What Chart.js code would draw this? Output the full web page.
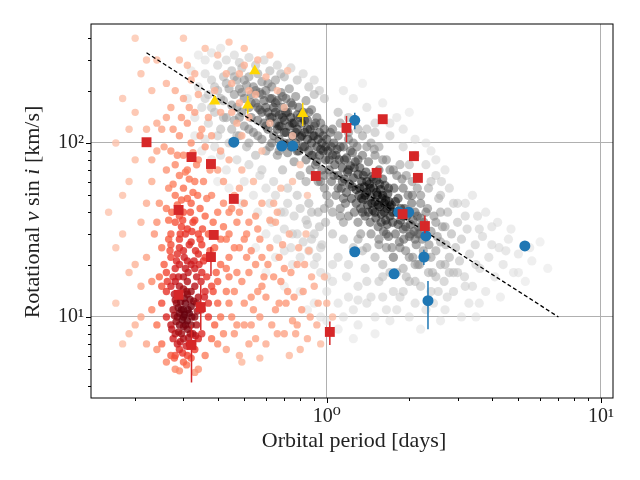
<!DOCTYPE html>
<html>
<head>
<meta charset="utf-8">
<script src="https://cdn.jsdelivr.net/npm/chart.js@4.4.0/dist/chart.umd.min.js"></script>
<style>
html, body { margin: 0; padding: 0; background: #fff; }
#wrap { width: 640px; height: 480px; }
</style>
</head>
<body>
<div id="wrap"><canvas id="chart" width="640" height="480"></canvas></div>
<script>
// grey cloud: synthetic population [period, vsini]
const greyPoints = [
  [0.34,210],[0.35,160],[0.36,250],[0.37,190],[0.37,130],[0.38,230],[0.39,150],[0.40,280],[0.40,200],[0.41,120],
  [0.42,175],[0.42,240],[0.43,140],[0.44,205],[0.44,100],[0.45,165],[0.45,260],[0.36,105],[0.39,95],[0.43,300],
  [0.46,190],[0.46,135],[0.47,230],[0.47,160],[0.48,110],[0.48,205],[0.49,150],[0.49,270],[0.50,180],[0.50,125],
  [0.51,215],[0.51,95],[0.52,160],[0.52,240],[0.53,140],[0.53,190],[0.54,115],[0.54,210],[0.55,170],[0.55,85],
  [0.56,250],[0.56,135],[0.57,195],[0.57,155],[0.58,105],[0.58,225],[0.59,175],[0.59,130],[0.60,200],[0.60,90],
  [0.47,80],[0.52,75],[0.58,70],
  [0.61,150],[0.61,120],[0.62,180],[0.62,95],[0.63,210],[0.63,140],[0.64,160],[0.64,110],[0.65,130],[0.65,230],
  [0.66,175],[0.66,85],[0.67,145],[0.67,105],[0.68,195],[0.68,125],[0.69,160],[0.69,70],[0.70,135],[0.70,100],
  [0.71,180],[0.71,115],[0.72,150],[0.72,88],[0.73,125],[0.73,205],[0.74,140],[0.74,95],[0.75,110],[0.75,165],
  [0.76,78],[0.76,130],[0.77,185],[0.77,100],[0.78,120],[0.78,145],[0.79,90],[0.79,160],[0.80,108],[0.80,65],
  [0.64,60],[0.72,55],[0.78,50],[0.68,250],
  [0.81,130],[0.82,95],[0.82,150],[0.83,115],[0.84,80],[0.84,175],[0.85,105],[0.85,135],[0.86,90],[0.87,120],
  [0.87,70],[0.88,155],[0.88,100],[0.89,85],[0.90,125],[0.90,110],[0.91,75],[0.92,140],[0.92,95],[0.93,60],
  [0.94,115],[0.94,85],[0.95,130],[0.96,100],[0.96,70],[0.97,90],[0.98,120],[0.98,55],[0.99,80],[1.00,105],
  [0.86,45],[0.93,40],[0.99,35],[0.90,190],[0.84,60],
  [1.01,90],[1.02,70],[1.03,115],[1.04,60],[1.05,85],[1.06,100],[1.07,75],[1.08,50],[1.09,92],[1.10,65],
  [1.11,80],[1.12,130],[1.13,55],[1.14,72],[1.15,95],[1.16,62],[1.17,45],[1.18,82],[1.19,68],[1.20,105],
  [1.21,58],[1.22,74],[1.23,48],[1.24,88],[1.25,63],[1.26,40],[1.27,78],[1.28,54],[1.29,95],[1.30,66],
  [1.05,30],[1.15,28],[1.25,25],[1.10,150],[1.20,140],[1.02,45],[1.12,38],
  [1.31,50],[1.32,72],[1.33,42],[1.34,60],[1.35,85],[1.36,47],[1.37,56],[1.38,38],[1.39,68],[1.40,52],
  [1.41,44],[1.42,78],[1.43,58],[1.44,35],[1.45,49],[1.46,64],[1.47,41],[1.48,55],[1.49,92],[1.50,46],
  [1.51,37],[1.52,61],[1.53,50],[1.54,33],[1.55,70],[1.56,43],[1.57,54],[1.58,39],[1.59,48],[1.60,62],
  [1.61,31],[1.62,45],[1.63,57],[1.64,36],[1.65,80],[1.66,42],[1.67,51],[1.68,29],[1.69,46],[1.70,38],
  [1.35,110],[1.45,100],[1.55,95],[1.40,25],[1.50,22],[1.60,20],[1.33,30],[1.65,25],
  [1.72,44],[1.74,35],[1.76,55],[1.78,30],[1.80,40],[1.82,48],[1.84,27],[1.86,36],[1.88,62],[1.90,32],
  [1.92,42],[1.94,24],[1.96,38],[1.98,50],[2.00,29],[2.02,34],[2.04,45],[2.06,22],[2.08,31],[2.10,40],
  [2.12,26],[2.14,55],[2.16,33],[2.18,20],[2.20,37],[1.75,70],[1.85,75],[1.95,65],[2.05,60],[1.80,18],
  [1.95,17],[2.10,16],[1.73,25],[1.91,28],[2.15,30],
  [2.23,28],[2.26,35],[2.30,22],[2.33,42],[2.36,26],[2.40,31],[2.43,18],[2.46,38],[2.50,24],[2.53,29],
  [2.56,48],[2.60,20],[2.64,33],[2.68,16],[2.72,26],[2.76,40],[2.80,22],[2.85,30],[2.90,18],[2.95,25],
  [3.00,35],[2.35,55],[2.55,14],[2.75,13],[2.45,12],[2.62,60],
  [3.05,21],[3.10,28],[3.18,17],[3.25,32],[3.32,23],[3.40,15],[3.48,26],[3.55,38],[3.62,19],[3.70,29],
  [3.80,14],[3.90,22],[4.00,33],[4.10,17],[4.25,25],[4.40,20],[3.20,45],[3.60,12],[4.30,13],
  [4.6,28],[4.8,18],[5.0,23],[5.3,16],[5.6,21],[6.0,27],[6.4,19],
  [0.75,30],[0.80,22],[0.88,28],[0.95,18],[1.00,14],[1.05,20],[1.10,12],[1.18,17],[1.25,11],[1.30,15],
  [1.38,19],[1.45,13],[1.55,16],[1.65,11],[1.75,14],[0.70,40],[0.85,34],
  [1.5,130],[1.7,110],[1.9,95],[2.1,85],[2.3,75],[2.5,65],[1.8,140],[2.6,50],[2.9,45],
  // outer envelope, upper left
  [0.31,180],[0.32,260],[0.33,140],[0.34,320],[0.35,90],[0.36,300],[0.38,330],[0.38,80],[0.41,350],[0.41,85],
  [0.43,70],[0.46,320],[0.48,290],[0.50,60],[0.52,310],[0.55,280],[0.57,65],[0.59,300],[0.44,55],[0.49,45],
  [0.54,50],[0.56,40],[0.60,55],[0.33,110],[0.40,60],
  [0.62,45],[0.63,35],[0.65,50],[0.66,28],[0.68,40],[0.70,32],[0.72,45],[0.74,25],[0.76,38],[0.78,30],
  [0.80,42],[0.82,27],[0.84,36],[0.86,24],[0.88,40],[0.90,30],[0.92,22],[0.94,33],[0.96,26],[0.98,42],
  [0.62,260],[0.66,280],[0.70,240],[0.74,270],[0.78,230],[0.82,250],[0.86,210],[0.90,230],[0.94,200],[0.98,180],
  // band fill
  [0.56,110],[0.58,150],[0.60,125],[0.62,140],[0.63,100],[0.65,170],[0.66,120],[0.67,90],[0.69,140],[0.70,115],
  [0.71,150],[0.73,100],[0.74,170],[0.75,130],[0.77,115],[0.78,90],[0.80,140],[0.81,110],[0.83,95],[0.83,135],
  [0.85,120],[0.86,150],[0.88,85],[0.89,110],[0.91,130],[0.92,78],[0.93,105],[0.95,92],[0.97,110],[0.99,95],
  [0.36,180],[0.38,160],[0.39,210],[0.41,180],[0.42,140],[0.43,220],[0.45,120],[0.46,240],[0.48,140],[0.49,195],
  [0.50,230],[0.52,120],[0.53,170],[0.55,200],[0.56,160],[0.58,190],[0.60,160],[0.61,220],[0.63,180],[0.65,150],
  [0.67,125],[0.69,185],[0.52,100],[0.47,110],[0.40,110],
  // core fill
  [1.02,80],[1.04,95],[1.06,65],[1.08,85],[1.10,55],[1.12,95],[1.14,60],[1.16,80],[1.18,52],[1.20,70],
  [1.22,90],[1.24,56],[1.26,72],[1.28,45],[1.30,80],[1.32,55],[1.34,48],[1.36,65],[1.38,50],[1.40,60],
  [1.42,40],[1.44,55],[1.46,45],[1.48,62],[1.50,40],[1.52,52],[1.54,44],[1.56,58],[1.58,35],[1.60,50],
  [1.62,40],[1.64,47],[1.66,34],[1.68,55],[1.70,43],[1.74,40],[1.78,46],[1.82,34],[1.86,42],[1.90,38],
  [1.94,33],[1.98,40],[2.02,30],[2.06,36],[2.10,28],[2.14,38],[2.18,30],[2.22,33],
  [0.95,60],[1.00,50],[1.05,40],[1.10,110],[1.15,48],[1.20,38],[1.25,100],[1.30,35],[1.35,40],[1.40,95],
  [1.45,30],[1.50,85],[1.55,28],[1.60,80],[1.65,30],[1.70,70],[1.75,22],[1.80,65],[1.85,25],[1.90,55],
  [2.00,22],[2.05,50],[2.10,20],[2.20,45],[2.25,24],[2.30,40],[2.40,22],[2.50,35],[2.60,27],[2.70,33],
  [1.15,35],[1.30,28],[1.55,26],[1.90,19],[2.35,18],[1.05,120],[1.20,115],[1.40,120],[0.98,65],[1.12,42],
  // lower and right envelope
  [0.90,12],[0.95,25],[1.00,9.5],[1.05,16],[1.10,22],[1.15,10],[1.20,13],[1.30,9],[1.35,24],[1.40,12],
  [1.50,10],[1.60,13],[1.70,18],[1.80,11],[1.90,14],[2.00,10],[2.10,12],[2.20,15],[2.30,11],[2.50,17],
  [2.70,11],[2.90,14],[3.10,10],[3.30,12],
  [0.55,25],[0.60,18],[0.65,22],[0.70,15],[0.75,20],[0.80,14],[0.85,11],[0.90,20],[1.00,17],[1.10,8.5],
  [1.20,20],[1.30,12.5],[1.40,16],[1.50,8],[1.60,17],[1.70,9.5],[1.85,13],[2.00,16],[2.20,8.5],[2.40,14],
  [2.60,9.5],[2.80,18],[3.20,15],[3.50,10],[0.95,10],[1.25,7.5],[1.75,22],[2.15,20],[0.60,30],[0.70,24],
  [2.4,60],[2.6,40],[2.8,55],[3.0,45],[3.2,38],[3.4,50],[3.6,32],[3.8,40],[4.0,26],[4.2,35],
  [4.5,24],[4.7,32],[5.0,18],[5.5,25],[3.0,18],[3.5,20],[2.7,20],[2.2,50],[2.0,75],[2.4,90],
  [1.25,180],[1.4,160],[1.6,170],[1.3,120],[1.5,115],[1.7,130],[1.9,120],[2.1,105],[2.3,100],[1.15,200],
  [1.35,220],[2.0,150],[2.5,80],[2.7,70]
];

// red cloud: contact-binary population [period, vsini]
const redPoints = [
  [0.27,9],[0.275,11],[0.28,8],[0.28,12.5],[0.285,7],[0.285,10],[0.29,9],[0.29,6.5],[0.295,11],[0.295,8],
  [0.30,10],[0.30,7.5],[0.305,12],[0.305,9],[0.31,8.5],[0.31,6],[0.315,10.5],[0.315,7],[0.32,9],[0.32,11.5],
  [0.325,8],[0.33,10],[0.33,6.5],[0.335,9],[0.34,7.5],[0.29,13],[0.30,5.5],[0.31,13.5],[0.28,6],[0.32,5.8],
  [0.275,7.5],[0.335,12],[0.30,8.8],[0.29,10.5],[0.31,9.5],[0.30,11],
  [0.272,8.5],[0.278,10.2],[0.283,12],[0.288,8.2],[0.292,7.2],[0.297,9.6],[0.302,12.8],[0.307,6.8],[0.312,11],[0.318,8],
  [0.322,10],[0.327,12.3],[0.332,7.8],[0.337,10.8],[0.282,9.4],[0.298,6.2],[0.303,10.3],[0.313,7.6],[0.323,6.9],[0.293,12.2],
  [0.287,11.3],[0.317,12.6],[0.308,5.3],[0.278,5.8],
  [0.24,9],[0.25,12],[0.25,7],[0.26,14],[0.26,5.5],[0.26,10],[0.27,15],[0.27,6],[0.28,16],[0.28,5],
  [0.29,15],[0.30,14.5],[0.31,16],[0.32,14],[0.33,15],[0.34,13],[0.35,11],[0.35,8],[0.36,14],[0.36,6],
  [0.37,10],[0.37,12],[0.38,7.5],[0.38,15],[0.34,5],[0.33,4.8],[0.29,4.9],[0.25,15],[0.23,11],[0.24,6.5],
  [0.39,9],[0.40,12],
  [0.26,18],[0.27,22],[0.28,19],[0.29,25],[0.30,17],[0.31,21],[0.32,27],[0.33,19],[0.34,23],[0.35,18],
  [0.27,30],[0.28,35],[0.29,28],[0.30,40],[0.31,32],[0.32,45],[0.33,36],[0.34,30],[0.35,26],[0.36,22],
  [0.26,42],[0.28,50],[0.30,55],[0.31,48],[0.33,60],[0.29,38],[0.27,26],[0.32,20],[0.36,38],[0.25,25],
  [0.37,30],[0.30,24],[0.29,20],
  [0.262,16],[0.268,24],[0.283,21],[0.292,30],[0.302,22],[0.312,18],[0.322,31],[0.332,24],[0.342,20],[0.352,32],
  [0.272,40],[0.298,36],[0.318,40],[0.338,50],[0.288,17],[0.308,14],[0.328,21],[0.348,16],[0.278,13.5],[0.358,13],
  [0.255,20],[0.265,28],[0.275,17],[0.285,23],[0.295,33],[0.305,19],[0.315,26],[0.325,35],[0.335,17],[0.345,28],
  [0.355,21],[0.365,17],[0.375,24],[0.265,36],[0.285,44],[0.305,30],[0.325,52],[0.345,42],[0.275,58],[0.295,47],
  [0.315,62],[0.335,75],[0.285,85],[0.305,68],[0.325,88],[0.265,55],[0.355,60],[0.345,110],[0.275,120],[0.315,160],
  [0.295,140],[0.255,95],[0.375,70],[0.365,48],[0.385,35],[0.395,18],[0.385,14],[0.245,17],[0.235,30],[0.245,45],
  [0.26,70],[0.27,90],[0.28,75],[0.29,110],[0.30,85],[0.31,130],[0.32,100],[0.33,150],[0.34,80],[0.35,120],
  [0.27,160],[0.28,200],[0.30,180],[0.32,230],[0.25,120],[0.36,95],[0.29,65],[0.31,70],[0.33,250],[0.26,140],
  [0.34,190],[0.37,140],[0.24,90],[0.29,300],[0.31,280],
  [0.17,12],[0.18,30],[0.19,8],[0.19,60],[0.20,150],[0.20,20],[0.21,10],[0.21,250],[0.22,45],[0.22,7],
  [0.23,80],[0.23,200],[0.24,35],[0.24,300],[0.18,180],[0.17,100],[0.22,120],[0.21,15],[0.40,40],[0.41,20],
  [0.42,8],[0.42,60],[0.43,14],[0.44,30],[0.45,100],[0.45,10],[0.46,50],[0.47,18],[0.48,6],[0.48,25],
  [0.49,70],[0.50,12],[0.52,35],[0.53,9],[0.55,20],[0.56,14],[0.58,45],[0.60,7],[0.39,25],[0.40,70],
  [0.38,50],[0.39,200],[0.40,320],[0.43,250],[0.36,350],[0.30,400],[0.26,220],[0.38,110],[0.41,150],[0.44,40],
  [0.47,130],
  [0.41,10],[0.43,6.5],[0.44,12],[0.46,8],[0.47,35],[0.49,16],[0.50,45],[0.51,22],[0.53,13],[0.54,60],
  [0.57,28],[0.59,17],[0.42,45],[0.44,80],[0.46,25],[0.48,55],[0.50,9],[0.52,7],[0.55,38],[0.57,10],
  [0.40,16],[0.43,28],[0.41,90],[0.45,150],[0.49,110],[0.52,200],[0.48,250],
  [0.42,33],[0.44,22],[0.46,14],[0.48,40],[0.50,28],[0.52,18],[0.54,11],[0.56,32],[0.58,22],[0.60,13],
  [0.62,36],[0.64,17],[0.66,8],[0.69,26],[0.72,14],[0.75,9.5],[0.78,20],[0.81,11],[0.84,30],[0.88,17],
  [0.93,12],[0.43,19],[0.47,9],[0.51,30],[0.55,7.5],[0.58,15],[0.61,20],[0.64,45],[0.67,12],[0.70,19],
  [0.73,6],[0.79,25],[0.85,7.5],[0.45,42],[0.49,5.5],[0.53,24],[0.57,5.8],[0.41,28],[0.40,7],[0.44,17],
  [0.18,50],[0.19,18],[0.20,9],[0.20,80],[0.21,35],[0.22,22],[0.22,300],[0.23,16],[0.23,60],[0.24,130],
  [0.20,400],[0.19,120],[0.16,40],[0.17,25],[0.18,7],
  [0.62,25],[0.65,11],[0.68,16],[0.70,8],[0.73,30],[0.76,13],[0.80,6.5],[0.83,20],[0.87,10],[0.90,15],
  [0.95,7],[1.0,12],[0.66,40],[0.78,9],
  [0.63,9],[0.67,22],[0.71,12],[0.74,18],[0.77,8],[0.82,14],[0.86,24],[0.92,9],[0.98,17],[1.05,10],
  [0.68,55],[0.75,60],
  // salmon points scattered over the grey band
  [0.45,220],[0.50,280],[0.55,190],[0.60,240],[0.48,170],[0.62,130],[0.66,200],[0.70,160],[0.58,90],[0.52,140],
  [0.75,110],[0.80,75],[0.68,95],[0.85,50],[0.65,35],[0.56,300],[0.62,320],[0.72,260],[0.50,350],[0.44,380]
];

// observed systems
const circleP = [0.458, 0.685, 0.751, 1.265, 1.83, 1.99, 2.30, 1.265, 2.26, 1.76, 2.34, 5.28];
const circleV = [101, 96, 96, 135, 40.1, 40, 29.2, 23.7, 22.1, 17.7, 12.4, 25.6];
const circleErrLo = [0, 0, 0, 15, 0, 0, 0, 0, 2.2, 0, 3.9, 0];
const circleErrHi = [0, 0, 0, 14, 2, 0, 0, 0, 2.2, 0, 3.7, 0];

const squareP = [0.22, 0.321, 0.378, 0.912, 0.458, 0.288, 0.387, 0.378, 0.288, 0.347, 0.321, 1.026, 1.18, 1.60, 2.08, 1.52, 2.15, 1.89, 2.28];
const squareV = [101, 83, 75.7, 64.6, 47.7, 41.2, 29.6, 22.1, 13.4, 11.4, 6.9, 8.2, 122, 137, 84, 67.3, 63, 39, 33.3];
const squareErrLo = [0, 0, 0, 0, 2, 0, 0, 4.9, 0, 3.0, 2.7, 1.3, 21, 0, 3, 4, 0, 0, 3];
const squareErrHi = [0, 0, 0, 0, 2, 0, 0, 3.2, 0, 3.9, 2.1, 1.2, 21, 0, 4, 5, 0, 0, 5];

const triP = [0.39, 0.515, 0.546, 0.817];
const triV = [174, 165, 259, 147];
const triErrLo = [0, 18, 4, 22];
const triErrHi = [0, 21, 4, 23];

// dashed relation
const lineP = [0.22, 7.0];
const lineV = [330, 10];

const GREYS = ['#ffffff', '#f0f0f0', '#d9d9d9', '#bdbdbd', '#969696', '#737373', '#525252', '#252525', '#000000'];
const REDS = ['#fff5f0', '#fee0d2', '#fcbba1', '#fc9272', '#fb6a4a', '#ef3b2c', '#cb181d', '#a50f15', '#67000d'];

function hexToRgb(h) {
    return [parseInt(h.slice(1, 3), 16), parseInt(h.slice(3, 5), 16), parseInt(h.slice(5, 7), 16)];
}

function cmap(stops, f) {
    f = Math.max(0, Math.min(1, f));
    const pos = f * (stops.length - 1);
    const i = Math.min(stops.length - 2, Math.floor(pos));
    const t = pos - i;
    const a = hexToRgb(stops[i]), b = hexToRgb(stops[i + 1]);
    return a.map((c, k) => Math.round(c + (b[k] - c) * t));
}

// colour each point by local density (gaussian kernel in log space), densest drawn last
function densityPoints(points, stops, lo, hi, gamma, alpha, h) {
    const lx = points.map(p => Math.log10(p[0]));
    const ly = points.map(p => Math.log10(p[1]) * 0.635);
    const dens = points.map((p, i) => {
        let s = 0;
        for (let j = 0; j < points.length; j++) {
            const dx = lx[i] - lx[j], dy = ly[i] - ly[j];
            s += Math.exp(-(dx * dx + dy * dy) / (2 * h * h));
        }
        return s;
    });
    const max = Math.max(...dens);
    const out = points.map((p, i) => {
        const f = lo + (hi - lo) * Math.pow(dens[i] / max, gamma);
        const c = cmap(stops, f);
        return { x: p[0], y: p[1], d: dens[i], c: `rgba(${c[0]},${c[1]},${c[2]},${alpha})` };
    });
    out.sort((a, b) => a.d - b.d);
    return out;
}

function xy(px, vy, lo, hi) {
    return px.map((p, i) => ({ x: p, y: vy[i], lo: lo ? vy[i] - lo[i] : vy[i], hi: hi ? vy[i] + hi[i] : vy[i] }));
}

const greyData = densityPoints(greyPoints, GREYS, 0.15, 1.0, 1.3, 0.55, 0.08);
const redData = densityPoints(redPoints, REDS, 0.2, 1.0, 1.2, 0.8, 0.06);

const serif = '"Liberation Serif", "DejaVu Serif", serif';

// error bars, minor ticks, axis titles
const extras = {
    id: 'extras',
    afterDatasetDraw(chart, args) {
        const ds = chart.data.datasets[args.index];
        if (!ds.errorBars) return;
        const ctx = chart.ctx, xs = chart.scales.x, ys = chart.scales.y;
        ctx.save();
        ctx.strokeStyle = ds.backgroundColor;
        ctx.lineWidth = 1.5;
        ds.data.forEach(p => {
            if (p.lo === p.hi) return;
            const x = xs.getPixelForValue(p.x);
            ctx.beginPath();
            ctx.moveTo(x, ys.getPixelForValue(p.lo));
            ctx.lineTo(x, ys.getPixelForValue(p.hi));
            ctx.stroke();
        });
        ctx.restore();
    },
    afterDraw(chart) {
        const ctx = chart.ctx, xs = chart.scales.x, ys = chart.scales.y, a = chart.chartArea;
        ctx.save();
        ctx.strokeStyle = '#000';
        ctx.lineWidth = 1;
        ctx.strokeRect(a.left, a.top, a.right - a.left, a.bottom - a.top);
        for (let e = -2; e <= 3; e++) {
            for (let m = 1; m < 10; m++) {
                const v = m * Math.pow(10, e);
                const len = m === 1 ? 5 : 3;
                if (v >= xs.min && v <= xs.max) {
                    const x = Math.round(xs.getPixelForValue(v)) + 0.5;
                    ctx.beginPath(); ctx.moveTo(x, a.bottom); ctx.lineTo(x, a.bottom + len); ctx.stroke();
                }
                if (v >= ys.min && v <= ys.max) {
                    const y = Math.round(ys.getPixelForValue(v)) + 0.5;
                    ctx.beginPath(); ctx.moveTo(a.left, y); ctx.lineTo(a.left - len, y); ctx.stroke();
                }
            }
        }
        ctx.fillStyle = '#222';
        ctx.textBaseline = 'middle';
        ctx.textAlign = 'center';
        ctx.font = '22px ' + serif;
        ctx.fillText('Orbital period [days]', (a.left + a.right) / 2 + 2, 441);

        const parts = [['Rotational ', ''], ['v', 'italic '], [' sin ', ''], ['i', 'italic '], [' [km/s]', '']];
        let total = 0;
        parts.forEach(p => { ctx.font = p[1] + '22px ' + serif; total += ctx.measureText(p[0]).width; });
        ctx.translate(33, 212);
        ctx.rotate(-Math.PI / 2);
        ctx.textAlign = 'left';
        let x = -total / 2;
        parts.forEach(p => {
            ctx.font = p[1] + '22px ' + serif;
            ctx.fillText(p[0], x, 0);
            x += ctx.measureText(p[0]).width;
        });
        ctx.restore();
    }
};

const SUP = { '-': '⁻', '0': '⁰', '1': '¹', '2': '²', '3': '³' };
function powLabel(v) {
    const e = Math.log10(v);
    if (Math.abs(e - Math.round(e)) > 1e-6) return '';
    return '10' + String(Math.round(e)).split('').map(c => SUP[c]).join('');
}

function isPow10(v) {
    const e = Math.log10(v);
    return Math.abs(e - Math.round(e)) < 1e-6;
}

new Chart(document.getElementById('chart'), {
    type: 'scatter',
    data: {
        datasets: [
            { label: 'triangles', data: xy(triP, triV, triErrLo, triErrHi), order: 1, errorBars: true,
              backgroundColor: '#ffd700', pointStyle: 'triangle', pointRadius: 6.5, pointBorderWidth: 0 },
            { label: 'squares', data: xy(squareP, squareV, squareErrLo, squareErrHi), order: 2, errorBars: true,
              backgroundColor: '#d62728', pointStyle: 'rect', pointRadius: 7, pointBorderWidth: 0 },
            { label: 'circles', data: xy(circleP, circleV, circleErrLo, circleErrHi), order: 3, errorBars: true,
              backgroundColor: '#1f77b4', pointStyle: 'circle', pointRadius: 5.5, pointBorderWidth: 0 },
            { label: 'relation', type: 'line', data: xy(lineP, lineV), order: 4,
              borderColor: '#000', borderWidth: 1.3, borderDash: [4, 2.5], pointRadius: 0, fill: false },
            { label: 'red cloud', data: redData, order: 5,
              backgroundColor: ctx => ctx.raw ? ctx.raw.c : '#fb6a4a', pointRadius: 3.7, pointBorderWidth: 0 },
            { label: 'grey cloud', data: greyData, order: 6,
              backgroundColor: ctx => ctx.raw ? ctx.raw.c : '#969696', pointRadius: 4.6, pointBorderWidth: 0 }
        ]
    },
    options: {
        responsive: false,
        animation: false,
        devicePixelRatio: 1,
        events: [],
        layout: { padding: { top: 24, right: 27, left: 0, bottom: 0 } },
        plugins: { legend: { display: false }, tooltip: { enabled: false } },
        scales: {
            x: {
                type: 'logarithmic', min: 0.138, max: 11.07,
                afterFit: s => { s.height = 82; },
                border: { display: false },
                grid: { color: c => isPow10(c.tick.value) ? '#b0b0b0' : 'rgba(0,0,0,0)', tickColor: 'rgba(0,0,0,0)', tickLength: 5, lineWidth: 1 },
                ticks: { autoSkip: false, maxRotation: 0, color: '#222', padding: 2,
                         font: { family: serif, size: 20 }, callback: v => powLabel(v) }
            },
            y: {
                type: 'logarithmic', min: 3.42, max: 483,
                afterFit: s => { s.width = 91; },
                border: { display: false },
                grid: { color: c => isPow10(c.tick.value) ? '#b0b0b0' : 'rgba(0,0,0,0)', tickColor: 'rgba(0,0,0,0)', tickLength: 5, lineWidth: 1 },
                ticks: { autoSkip: false, color: '#222', padding: 2,
                         font: { family: serif, size: 20 }, callback: v => powLabel(v) }
            }
        }
    },
    plugins: [extras]
});
</script>
</body>
</html>
